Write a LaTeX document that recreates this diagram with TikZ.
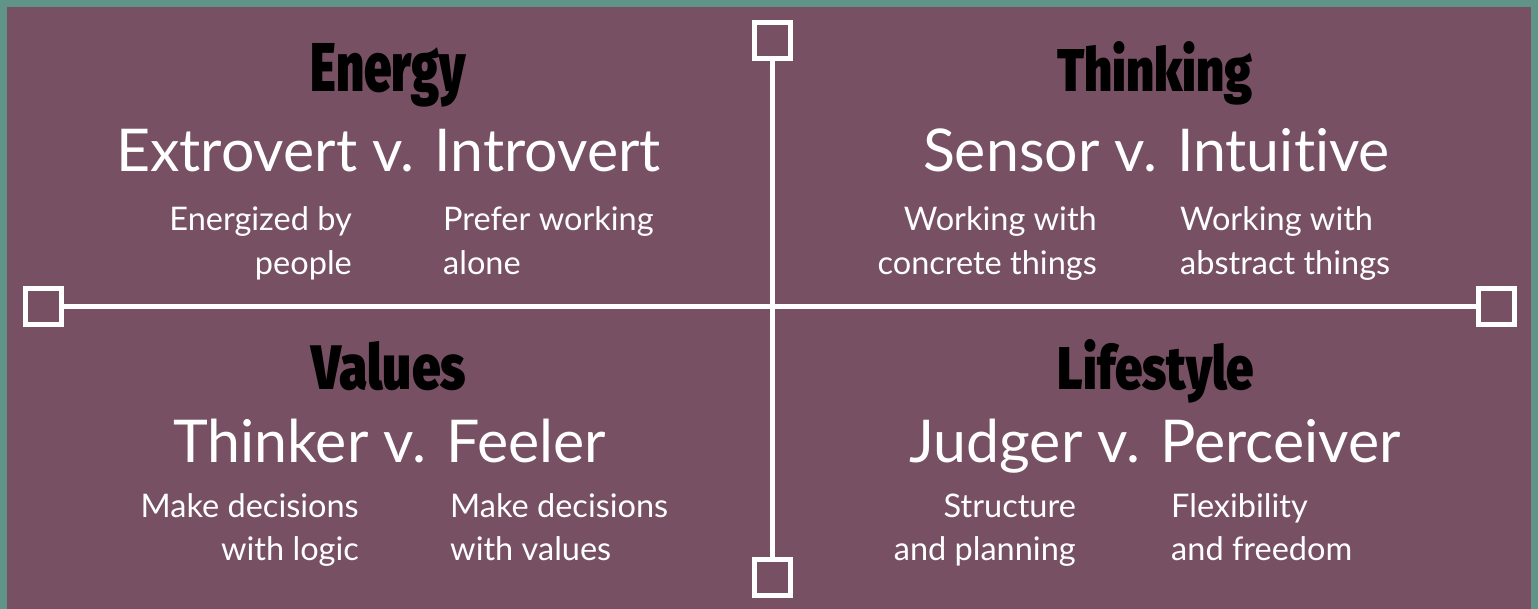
\documentclass[tikz,border=0pt]{standalone}
\usepackage{fontspec}
\usepackage{graphicx}
\setmainfont{Lato}[Ligatures={NoCommon}]
\IfFontExistsTF{Fira Sans Black}
 {\newfontfamily\ttlfamily{Fira Sans Black}\newcommand\ttlf{\ttlfamily}}
 {\newfontfamily\ttlfamily{Fira Sans}\newcommand\ttlf{\ttlfamily\bfseries}}
\definecolor{bgpurple}{RGB}{120,80,100}
\definecolor{frameteal}{RGB}{96,148,136}
\begin{document}
\begin{tikzpicture}[x=1pt,y=-1pt,
  sq/.style={draw=white, line width=5pt, fill=bgpurple, minimum size=36pt, inner sep=0pt, outer sep=0pt},
  axisline/.style={draw=white, line width=5pt},
  ttl/.style={anchor=base, inner sep=0pt, text=black},
  sub/.style={anchor=base, inner sep=0pt, text=white, font=\fontsize{59}{70}\selectfont},
  lft/.style={anchor=base east, inner sep=0pt, text=white, font=\fontsize{32.5}{44}\selectfont},
  rgt/.style={anchor=base west, inner sep=0pt, text=white, font=\fontsize{32.5}{44}\selectfont}]
\fill[frameteal] (0,0) rectangle (1538,609);
\fill[bgpurple] (7,7) rectangle (1531,609);
\useasboundingbox (0,0) rectangle (1538,609);
% squares
\node[sq] (sqT) at (772.5,41) {};
\node[sq] (sqB) at (772.5,577.5) {};
\node[sq] (sqL) at (43.5,306.5) {};
\node[sq] (sqR) at (1496.5,306.5) {};
\draw[axisline] (sqT.south) -- (sqB.north);
\draw[axisline] (sqL.east) -- (sqR.west);
% top-left
\node[ttl] (tE) at (388.5,92) {\resizebox{155pt}{48pt}{\ttlf Energy}};
\node[sub] (sE) at (388.5,172) {Extrovert v. Introvert};
\node[lft] (a1) at (352,231) {Energized by};
\node[lft] (a2) at (352,275) {people};
\node[rgt] (b1) at (443,231) {Prefer working};
\node[rgt] (b2) at (443,275) {alone};
% top-right
\node[ttl] (tT) at (1155,92) {\resizebox{196pt}{50pt}{\ttlf Thinking}};
\node[sub] (sT) at (1156.5,172) {Sensor v. Intuitive};
\node[lft] (c1) at (1097,231) {Working with};
\node[lft] (c2) at (1097,275) {concrete things};
\node[rgt] (d1) at (1180,231) {Working with};
\node[rgt] (d2) at (1180,275) {abstract things};
% bottom-left
\node[ttl] (tV) at (389,389) {\resizebox{154pt}{48pt}{\ttlf Values}};
\node[sub] (sV) at (389.5,462) {Thinker v. Feeler};
\node[lft] (e1) at (359,517) {Make decisions};
\node[lft] (e2) at (359,560) {with logic};
\node[rgt] (f1) at (450,517) {Make decisions};
\node[rgt] (f2) at (450,560) {with values};
% bottom-right
\node[ttl] (tL) at (1156,389) {\resizebox{196pt}{50pt}{\ttlf Lifestyle}};
\node[sub] (sL) at (1155,462) {Judger v. Perceiver};
\node[lft] (g1) at (1076,517) {Structure};
\node[lft] (g2) at (1076,560) {and planning};
\node[rgt] (h1) at (1171,517) {Flexibility};
\node[rgt] (h2) at (1171,560) {and freedom};
\end{tikzpicture}
\end{document}
